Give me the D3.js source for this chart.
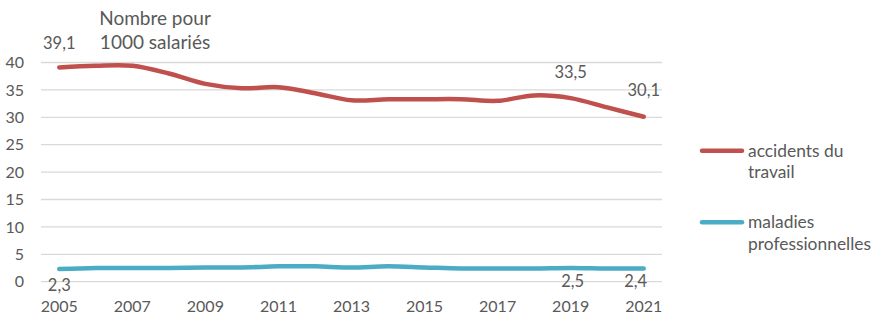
<!DOCTYPE html>
<html><head><meta charset="utf-8">
<script src="https://cdn.jsdelivr.net/npm/d3@7"></script>
<style>body{margin:0;background:#fff}svg{display:block;font-family:Lato,"Open Sans",sans-serif}</style>
</head><body><svg id="c" width="888" height="321"></svg>
<script>
const years = [2005,2006,2007,2008,2009,2010,2011,2012,2013,2014,2015,2016,2017,2018,2019,2020,2021];
const accidents = [39.1,39.4,39.4,38.0,36.1,35.3,35.5,34.4,33.1,33.3,33.3,33.3,33.0,34.0,33.5,31.8,30.1];
const maladies = [2.3,2.5,2.5,2.5,2.6,2.6,2.8,2.8,2.6,2.8,2.6,2.4,2.4,2.4,2.5,2.4,2.4];
const yTicks = [0,5,10,15,20,25,30,35,40];
const xTickYears = [2005,2007,2009,2011,2013,2015,2017,2019,2021];
const seriesNames = ["accidents du travail","maladies professionnelles"];
const labelsA = [{i:0,t:"39,1"},{i:14,t:"33,5"},{i:16,t:"30,1"}];
const labelsM = [{i:0,t:"2,3"},{i:14,t:"2,5"},{i:16,t:"2,4"}];

const svg = d3.select("#c");
const textColor = "#595959";
const x = d3.scaleBand().domain(years).range([41,662]);
const y = d3.scaleLinear().domain([0,40]).range([281.7,62.5]);
const cx = d => x(d) + x.bandwidth()/2;

const g = svg.append("g");
g.selectAll("line.grid").data(yTicks).join("line")
  .attr("x1",41).attr("x2",662)
  .attr("y1",d=>y(d)).attr("y2",d=>y(d))
  .attr("stroke","#d9d9d9").attr("stroke-width",1.3);

g.selectAll("text.yt").data(yTicks).join("text")
  .attr("x",24).attr("y",d=>y(d)).attr("dy","0.35em")
  .attr("text-anchor","end").attr("font-size",16).attr("fill",textColor)
  .text(d=>d);

g.selectAll("text.xt").data(xTickYears).join("text")
  .attr("x",d=>cx(d)).attr("y",312)
  .attr("text-anchor","middle").attr("font-size",16).attr("fill",textColor)
  .text(d=>d);

const line = d3.line().x((d,i)=>cx(years[i])).y(d=>y(d)).curve(d3.curveCardinal.tension(0));
const colors = ["#C0504D","#4BACC6"];
[accidents,maladies].forEach((s,k)=>{
  g.append("path").attr("d",line(s)).attr("fill","none")
   .attr("stroke",colors[k]).attr("stroke-width",4.5)
   .attr("stroke-linecap","round").attr("stroke-linejoin","round");
});

g.selectAll("text.la").data(labelsA).join("text")
  .attr("x",d=>cx(years[d.i])).attr("y",(d,j)=>[49,78,96][j])
  .attr("text-anchor","middle").attr("font-size",16.5).attr("fill",textColor)
  .text(d=>d.t);
g.selectAll("text.lm").data(labelsM).join("text")
  .attr("x",(d,j)=>cx(years[d.i]) + [0,2,-8][j]).attr("y",(d,j)=>[291,287,287][j])
  .attr("text-anchor","middle").attr("font-size",16.5).attr("fill",textColor)
  .text(d=>d.t);

// title
const title = g.append("text").attr("text-anchor","middle").attr("font-size",19).attr("fill",textColor);
title.append("tspan").attr("x",155).attr("y",25).text("Nombre pour");
title.append("tspan").attr("x",155).attr("y",49).text("1000 salariés");

// legend
const legLines = [["accidents du","travail"],["maladies","professionnelles"]];
const legY = [150.7,222.3];
legLines.forEach((ls,k)=>{
  g.append("line").attr("x1",702).attr("x2",742).attr("y1",legY[k]).attr("y2",legY[k])
   .attr("stroke",colors[k]).attr("stroke-width",4.5).attr("stroke-linecap","round");
  const t = g.append("text").attr("font-size",17.4).attr("fill",textColor);
  ls.forEach((s,j)=>t.append("tspan").attr("x",748).attr("y",legY[k]+6+j*21.5).text(s));
});
</script></body></html>
